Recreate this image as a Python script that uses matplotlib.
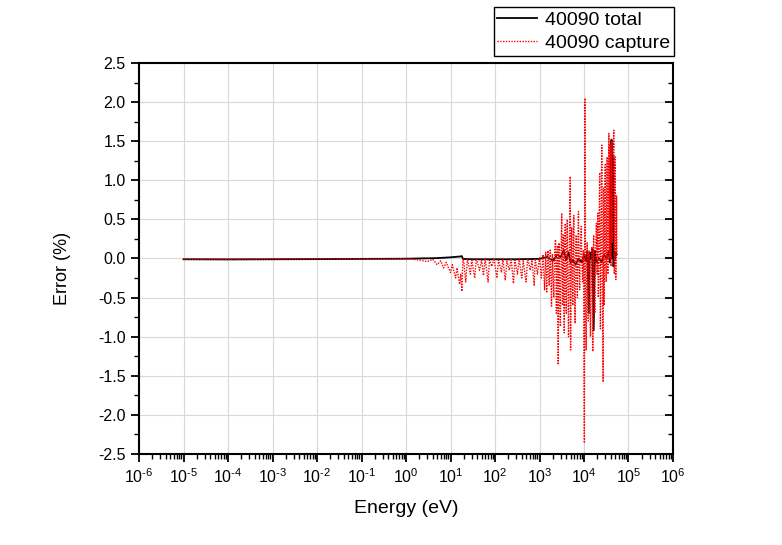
import numpy as np
import matplotlib
matplotlib.use('Agg')
import matplotlib.pyplot as plt
from matplotlib.ticker import LogLocator, MultipleLocator, NullFormatter

plt.rcParams['font.family'] = ['Liberation Sans', 'DejaVu Sans']
plt.rcParams['mathtext.fontset'] = 'custom'
plt.rcParams['mathtext.rm'] = 'Liberation Sans'
plt.rcParams['axes.unicode_minus'] = False

# 40090 total (energy in eV, error in %)
total_E = [1e-5, 1e-4, 1e-3, 1e-2, 0.1, 1, 5, 10, 16, 18, 19, 30, 100, 300,
           1000, 1500, 2000, 2500, 3000, 3500, 4000, 4500, 5000, 5500, 6500,
           7500, 9000, 10000, 11000, 12000, 12800, 13500, 14500, 15500, 16500,
           17500, 19000, 22000, 25000, 28000, 32000, 36000, 38000, 40000,
           41500, 43000, 44500, 46000, 48000, 50000, 52000, 54000]
total_err = [-0.01, -0.012, -0.01, -0.008, -0.005, -0.003, 0.005, 0.015, 0.025,
             0.03, -0.005, -0.01, -0.01, -0.01,
             -0.005, 0.02, -0.03, 0.05, 0.02, 0.1, -0.02, 0.08, -0.05, -0.02,
             -0.08, 0.0, -0.05, 0.05, -0.03, 0.1, -0.7, 0.08, 0.0, 0.12, -0.92,
             0.1, -0.05, 0.0, -0.05, 0.05, 0.0, 0.1, -0.05, 0.3,
             1.52, 0.0, 1.3, -0.1, 0.1, 0.0, 0.08, 0.05]

# 40090 capture
cap_E = [1e-5, 1e-4, 1e-3, 1e-2, 0.1, 0.5, 1, 2, 3, 4, 5, 6, 7, 8, 10, 11,
         13, 14, 16, 17, 18, 19,
         20, 22, 24, 28, 30, 35, 38, 45, 50, 55, 60, 70, 75, 85, 95, 110, 120,
         140, 150, 170, 185, 210, 230, 260, 280, 320, 350, 400, 430, 500, 540,
         620, 680, 760, 800, 900,
         1000, 1100, 1200, 1300, 1380, 1450, 1550, 1650, 1750, 1860, 1950,
         2100, 2200, 2290, 2350, 2400, 2460, 2520, 2580, 2630, 2700, 2750,
         2850, 2950, 3050, 3160, 3230, 3300, 3380, 3450, 3520, 3600,
         3700, 3800, 3900, 4000, 4100, 4200, 4350, 4500, 4700, 4900, 4950,
         5000, 5150, 5300, 5450, 5600, 5750, 5900, 6100, 6300, 6500, 6700,
         6900, 7100, 7300, 7500, 7750, 8000, 8350, 8700, 9000, 9300, 9700,
         10200, 10500, 10900, 11200, 11500, 11800, 12200,
         12500, 12800, 13200, 13600, 14000, 14500, 15000, 15400, 15800, 16200,
         16500, 17000, 17500, 18200, 19000, 19700, 20400, 21000, 21700,
         22500, 23000, 23400, 24200, 25100, 26000, 26900, 27500, 28000, 28500,
         29200, 30000, 30700, 31500, 32200, 33000, 33700, 34500, 35400,
         36300, 37000, 37500, 38200, 39000, 39700, 40500, 41200, 42000,
         42700, 43500, 45000, 46800, 47300, 48000, 49000, 50000, 51000, 52000,
         53000, 54000, 55000]
cap_err = [-0.01, -0.01, -0.008, -0.005, -0.003, -0.005, 0.0, -0.02, -0.04,
           -0.01, -0.08, -0.03, -0.12, -0.05, -0.18, -0.08, -0.25, -0.12,
           -0.33, -0.2, -0.42, 0.0,
           -0.05, -0.3, 0.0, -0.2, -0.02, -0.25, 0.0, -0.15, -0.02, -0.22, 0.0,
           -0.3, -0.02, -0.1, 0.0, -0.25, -0.02, -0.18, 0.0, -0.28, -0.03,
           -0.15, 0.0, -0.32, -0.02, -0.2, 0.0, -0.25, -0.03, -0.3, 0.0,
           -0.15, -0.02, -0.35, 0.0, -0.2,
           0.02, -0.25, 0.05, -0.4, 0.08, -0.44, 0.1, -0.35, 0.12, -0.62, 0.05,
           -0.5, 0.1, 0.24, -0.3, -0.7, 0.0, 0.15, -0.4, -1.36, 0.05, 0.2,
           -0.5, -0.87, 0.1, 0.58, -0.2, -0.6, 0.1, 0.3, -0.5, -0.95,
           0.2, 0.45, -0.3, -0.7, 0.1, 0.5, -0.4, -1.0, 0.2, 1.05, -0.1,
           -1.17, 0.1, 0.4, -0.3, -0.6, 0.2, 0.55, -0.4, -0.83, 0.1, 0.3,
           -0.2, -0.5, 0.2, 0.6, -0.1, -0.4, 0.2, 0.41, -0.1, -0.3, 0.1,
           -2.36, 2.05, -0.6, -1.17, -0.2, 0.2, -0.5,
           -0.8, 0.0, 0.1, -0.6, -1.0, -0.2, 0.15, -0.5, -1.19, 0.0,
           0.3, -0.3, -0.7, 0.1, 0.45, -0.2, 0.58, -0.5, 0.3,
           1.1, 0.0, -0.9, 0.2, 1.45, -0.4, -1.58, 0.9, -0.1, -0.6,
           0.5, 1.2, 0.1, -0.3, 0.6, 1.3, 0.0, -0.2, 0.8,
           1.6, 0.3, 0.0, 0.9, 1.45, 0.2, -0.1, 0.7, 1.5,
           0.4, 0.2, 1.0, 1.64, 0.3, -0.2, 0.6, 1.3, 0.2, -0.27,
           0.3, 0.8, 0.05]


def decade_label(v, pos):
    exp = int(round(np.log10(v)))
    return r'$10^{\text{%d}}$' % exp


fig = plt.figure(figsize=(7.82, 5.45), dpi=100)
ax = fig.add_axes([0.1778, 0.167, 0.6828, 0.7174])

ax.plot(total_E, total_err, '-', color='black', lw=1.3, label='40090 total')
ax.plot(cap_E, cap_err, linestyle=(0, (1, 1)), color='red', lw=1.0,
        label='40090 capture')

ax.set_xscale('log')
ax.set_xlim(1e-6, 1e6)
ax.set_ylim(-2.5, 2.5)
ax.xaxis.set_major_locator(LogLocator(base=10, numticks=20))
ax.xaxis.set_minor_locator(LogLocator(base=10, subs=np.arange(2, 10), numticks=20))
ax.xaxis.set_major_formatter(plt.FuncFormatter(decade_label))
ax.xaxis.set_minor_formatter(NullFormatter())
ax.yaxis.set_major_locator(MultipleLocator(0.5))
ax.yaxis.set_minor_locator(MultipleLocator(0.25))
ax.yaxis.set_major_formatter(plt.FuncFormatter(lambda v, p: '%.1f' % v))

ax.grid(True, which='major', color='#d8d8d8', lw=0.8)
ax.set_axisbelow(True)
for s in ax.spines.values():
    s.set_linewidth(1.5)
ax.tick_params(which='major', direction='out', length=6, width=1.3, labelsize=11.5)
ax.tick_params(which='minor', direction='out', length=3.5, width=1.0)
ax.yaxis.set_tick_params(which='both', right=True)
for t in ax.yaxis.get_major_ticks() + ax.yaxis.get_minor_ticks():
    t.tick2line.set_marker(matplotlib.lines.TICKLEFT)

ax.set_xlabel('Energy (eV)', fontsize=14, labelpad=10)
ax.set_ylabel('Error (%)', fontsize=13)
ax.yaxis.set_label_coords(-0.128, 0.475)

fig.legend(loc='upper right', bbox_to_anchor=(0.862, 0.987), fontsize=14,
           frameon=True, fancybox=False, edgecolor='black', framealpha=1,
           borderaxespad=0, handlelength=2.05, borderpad=0.2,
           labelspacing=0.3, handletextpad=0.4)

plt.savefig('out.png', dpi=100)
